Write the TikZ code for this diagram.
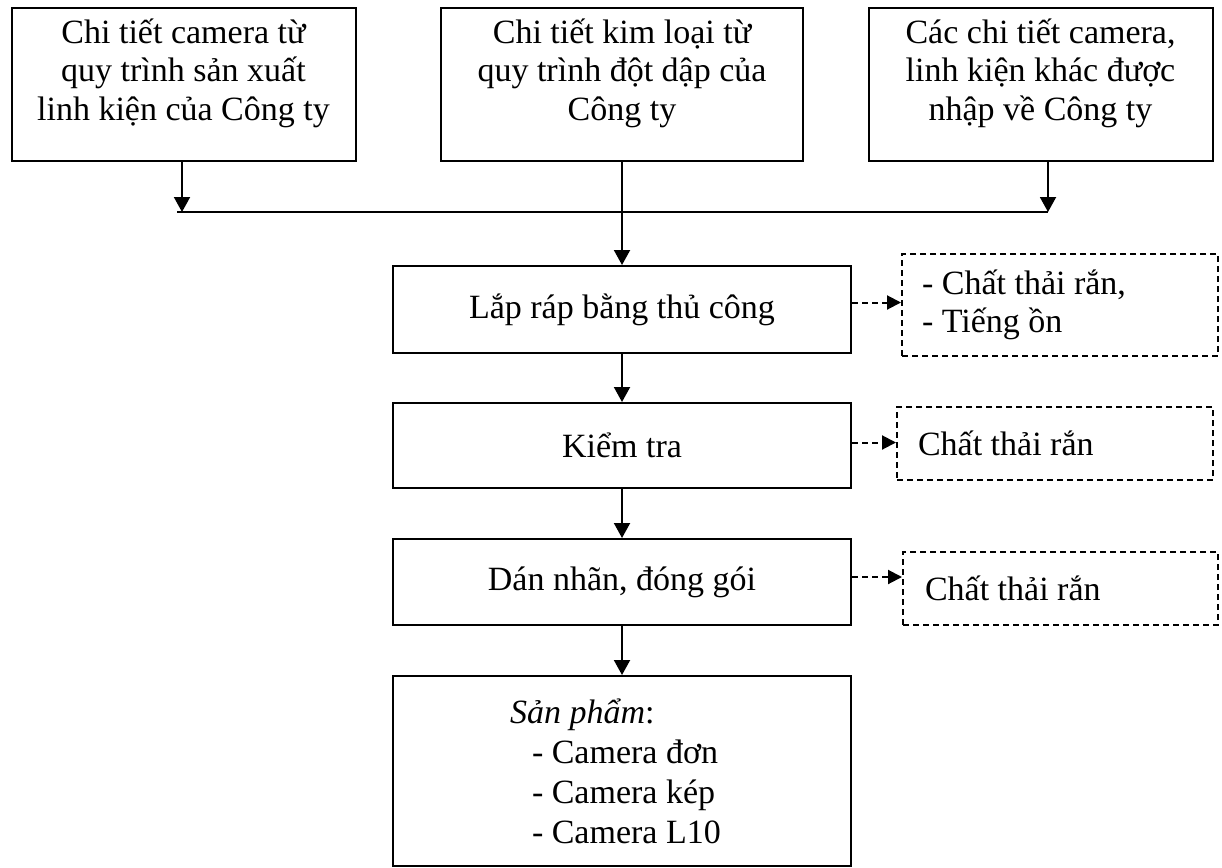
\documentclass[tikz,border=0pt]{standalone}
\usepackage{fontspec}
\setmainfont{Liberation Serif}
\usetikzlibrary{arrows.meta, positioning}

\begin{document}
\begin{tikzpicture}[
    x=1pt, y=-1pt,
    box/.style={draw, line width=2pt, align=center, inner sep=0pt,
                font=\fontsize{34}{38.5}\selectfont},
    srcbox/.style={box, minimum width=344pt, minimum height=152pt, text depth=30pt},
    stepbox/.style={box, minimum width=458pt, minimum height=86pt},
    wastebox/.style={draw, line width=2pt, dash pattern=on 6pt off 4pt, align=flush left,
                inner xsep=20pt, inner ysep=0pt, text width=276pt,
                font=\fontsize{34}{38.5}\selectfont},
    arrow/.style={-{Triangle[length=15pt, width=16pt]}, line width=2pt},
    dasharrow/.style={-{Triangle[length=14pt, width=14pt]}, line width=2pt,
                dash pattern=on 6pt off 4pt}
    ]
    \useasboundingbox (0,0) rectangle (1222,867);

    \node[srcbox] (cam) at (183.5,84.5) {Chi tiết camera từ\\quy trình sản xuất\\linh kiện của Công ty};
    \node[srcbox, minimum width=362pt] (metal) at (622,84.5) {Chi tiết kim loại từ\\quy trình đột dập của\\Công ty};
    \node[srcbox] (import) at (1040.5,84.5) {Các chi tiết camera,\\linh kiện khác được\\nhập về Công ty};

    \node[stepbox, minimum height=87pt] (assy) at (622,309.5) {Lắp ráp bằng thủ công};
    \node[stepbox, minimum height=85pt] (check) at (622,445.5) {Kiểm tra};
    \node[stepbox] (pack) at (622,582) {Dán nhãn, đóng gói};
    \node[box, minimum width=458pt, minimum height=190pt, align=flush left, inner xsep=117pt,
          text width=224pt, font=\fontsize{34}{40}\selectfont] (prod) at (622,771)
        {\textit{Sản phẩm}:\\\hspace*{22pt}- Camera đơn\\\hspace*{22pt}- Camera kép\\\hspace*{22pt}- Camera L10};

    \node[wastebox, minimum height=102pt] (waste1) at (1060,305) {- Chất thải rắn,\\- Tiếng ồn};
    \node[wastebox, minimum height=73pt, inner xsep=21pt, text width=274pt] (waste2) at (1055,443.5) {Chất thải rắn};
    \node[wastebox, minimum height=73pt, inner xsep=22pt, text width=271pt] (waste3) at (1060.5,588.5) {Chất thải rắn};

    \coordinate (joinL) at (177,212);
    \coordinate (joinR) at (1048,212);
    \draw[line width=2pt] (joinL) -- (joinR);
    \draw[arrow] ([xshift=-1.5pt]cam.south) -- ([xshift=-1.5pt]cam.south |- joinL);
    \draw[arrow] ([xshift=7.5pt]import.south) -- (joinR);
    \draw[arrow] (metal) -- (assy);
    \draw[arrow] (assy) -- (check);
    \draw[arrow] (check) -- (pack);
    \draw[arrow] (pack) -- (prod);

    \draw[dasharrow] ([yshift=7pt]assy.east) -- ([yshift=7pt]assy.east -| waste1.west);
    \draw[dasharrow] ([yshift=3pt]check.east) -- ([yshift=3pt]check.east -| waste2.west);
    \draw[dasharrow] ([yshift=5pt]pack.east) -- ([yshift=5pt]pack.east -| waste3.west);
  \end{tikzpicture}
\end{document}
